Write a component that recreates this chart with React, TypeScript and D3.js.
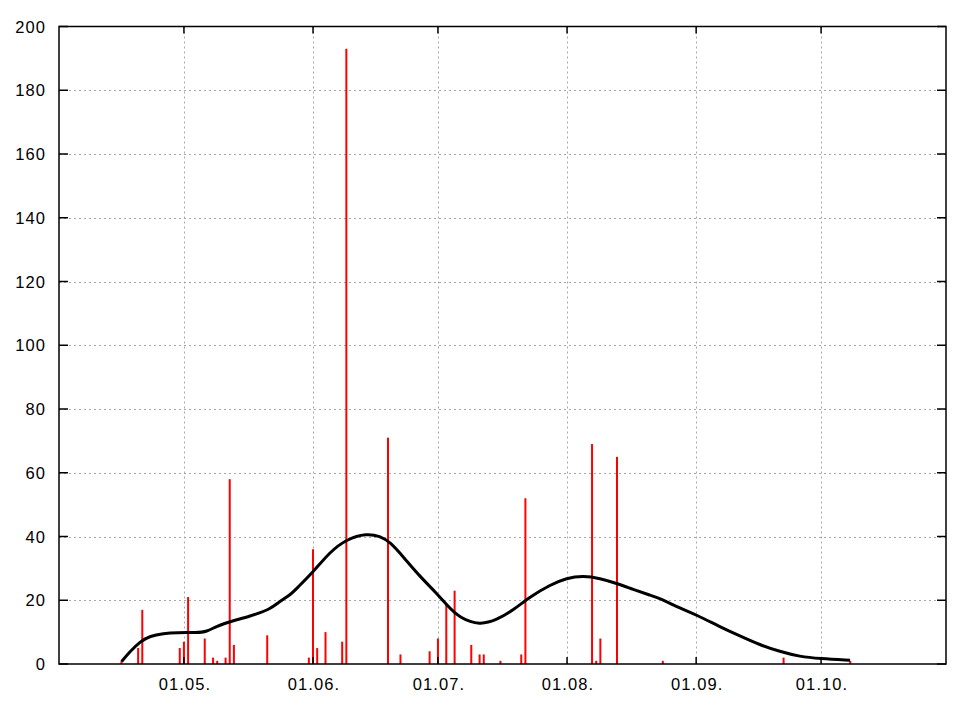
import React from "react";
import * as d3 from "d3";

// Impulse data: dates (YYYY-MM-DD) and counts
const barDates = [
  "2010-04-16", "2010-04-20", "2010-04-21", "2010-04-30", "2010-05-01", "2010-05-02",
  "2010-05-06", "2010-05-08", "2010-05-09", "2010-05-11", "2010-05-12", "2010-05-13",
  "2010-05-21", "2010-05-31", "2010-06-01", "2010-06-02", "2010-06-04", "2010-06-08",
  "2010-06-09", "2010-06-19", "2010-06-22", "2010-06-29", "2010-07-01", "2010-07-03",
  "2010-07-05", "2010-07-09", "2010-07-11", "2010-07-12", "2010-07-16", "2010-07-21",
  "2010-07-22", "2010-08-07", "2010-08-08", "2010-08-09", "2010-08-13", "2010-08-24",
  "2010-09-22", "2010-10-08",
];
const barValues = [
  1, 5, 17, 5, 7, 21,
  8, 2, 1, 2, 58, 6,
  9, 2, 36, 5, 10, 7,
  193, 71, 3, 4, 8, 19,
  23, 6, 3, 3, 1, 3,
  52, 69, 1, 8, 65, 1,
  2, 1,
];

// Smoothed curve: days since 2010-04-01 and values
const curveDays = [
  15.06, 17.05, 19.45, 21.85, 25.05, 28.27, 33.07, 35.47, 37.87, 41.07, 45.87, 50.67,
  53.07, 55.47, 57.08, 61.07, 65.08, 69.09, 73.9, 77.09, 79.49, 82.68, 86.7, 90.7,
  93.1, 96.3, 101.1, 105.1, 109.1, 113.1, 117.9, 121.9, 125.9, 129.9, 133.9, 137.9,
  141.9, 144.3, 149.1, 153.1, 158.7, 163.5, 168.3, 173.1, 177.9, 182.7, 189.96,
];
const curveValues = [
  0.8, 3.9, 7.0, 8.8, 9.6, 9.9, 9.8, 10.1, 11.9, 13.3, 15.0, 17.1,
  19.7, 21.6, 23.7, 28.9, 35.2, 39.2, 41.0, 40.1, 38.3, 33.6, 27.4, 22.2,
  18.5, 14.3, 12.2, 13.8, 16.9, 21.1, 24.8, 27.0, 27.7, 26.9, 25.3, 23.4,
  21.6, 20.6, 17.5, 15.4, 11.7, 8.8, 6.0, 3.9, 2.3, 1.7, 1.2,
];

const xTickDates = ["2010-05-01", "2010-06-01", "2010-07-01", "2010-08-01", "2010-09-01", "2010-10-01"];
const xTickLabels = ["01.05.", "01.06.", "01.07.", "01.08.", "01.09.", "01.10."];
const yTicks = [0, 20, 40, 60, 80, 100, 120, 140, 160, 180, 200];

const parse = (s: string) => new Date(s + "T00:00:00Z");
const base = parse("2010-04-01").getTime();

export default function App() {
  const W = 970, H = 703;
  const left = 59, right = 946, top = 26.5, bottom = 664;
  const x = d3.scaleUtc().domain([parse("2010-04-01"), parse("2010-10-31")]).range([left, right]);
  const y = d3.scaleLinear().domain([0, 200]).range([bottom, top]);

  const curvePts: [number, number][] = curveDays.map((d, i) => [
    x(new Date(base + d * 86400000)),
    y(curveValues[i]),
  ]);
  const line = d3.line().curve(d3.curveBasis)(curvePts) || "";

  const font = "'Liberation Sans', Arial, sans-serif";

  return (
    <svg width={W} height={H} style={{ position: "absolute", left: 0, top: 0, background: "#fff" }}>
      <rect x={0} y={0} width={W} height={H} fill="#fff" />
      {/* grid */}
      {yTicks.slice(1, -1).map((t) => (
        <line key={"gy" + t} x1={left} x2={right} y1={Math.round(y(t)) + 0.5} y2={Math.round(y(t)) + 0.5}
          stroke="#a8a8a8" strokeWidth={1} strokeDasharray="2,3" />
      ))}
      {xTickDates.map((d) => (
        <line key={"gx" + d} x1={Math.round(x(parse(d))) + 0.5} x2={Math.round(x(parse(d))) + 0.5} y1={top} y2={bottom}
          stroke="#a8a8a8" strokeWidth={1} strokeDasharray="2,3" />
      ))}
      {/* bars */}
      {barDates.map((d, i) => (
        <line key={"b" + i} x1={x(parse(d))} x2={x(parse(d))} y1={y(0)} y2={y(barValues[i])}
          stroke="#ff0000" strokeWidth={2} />
      ))}
      {/* curve */}
      <path d={line} fill="none" stroke="#000" strokeWidth={3} strokeLinejoin="round" />
      {/* ticks */}
      {yTicks.map((t) => (
        <g key={"ty" + t}>
          <line x1={left} x2={left + 9} y1={y(t)} y2={y(t)} stroke="#000" strokeWidth={1.5} />
          <line x1={right - 9} x2={right} y1={y(t)} y2={y(t)} stroke="#000" strokeWidth={1.5} />
          <text x={46} y={y(t) + 6} textAnchor="end" fontFamily={font} fontSize={16.5} letterSpacing={1.1} fill="#000">
            {t}
          </text>
        </g>
      ))}
      {xTickDates.map((d, i) => (
        <g key={"tx" + d}>
          <line x1={x(parse(d))} x2={x(parse(d))} y1={bottom} y2={bottom - 7} stroke="#000" strokeWidth={1.5} />
          <line x1={x(parse(d))} x2={x(parse(d))} y1={top} y2={top + 7} stroke="#000" strokeWidth={1.5} />
          <text x={x(parse(d)) + 1} y={689.5} textAnchor="middle" fontFamily={font} fontSize={16.5} letterSpacing={1.1} fill="#000">
            {xTickLabels[i]}
          </text>
        </g>
      ))}
      {/* frame */}
      <rect x={left} y={top} width={right - left} height={bottom - top} fill="none" stroke="#000" strokeWidth={1.5} />
    </svg>
  );
}
